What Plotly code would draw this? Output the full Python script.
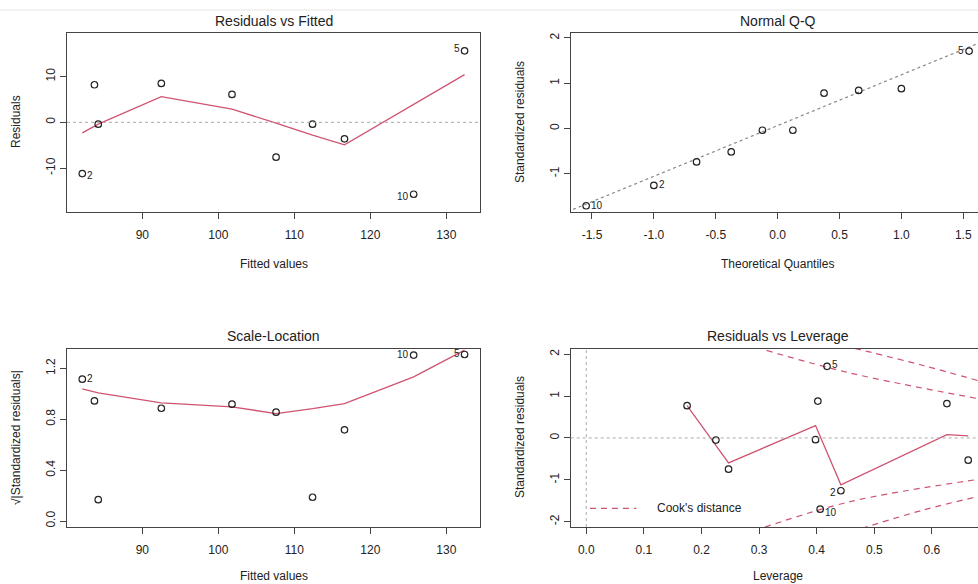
import plotly.graph_objects as go

W, H = 978, 584
FONT = "Liberation Sans, Arial, Helvetica, sans-serif"
RED = "#CF5470"
FRAME = "#444444"
TXT = "#222222"

# ---- Residuals vs Fitted / Scale-Location (shared fitted values) ----
fitted = [82.1, 83.7, 84.2, 92.5, 101.8, 107.6, 112.4, 116.6, 125.7, 132.4]
residuals = [-11.2, 8.2, -0.4, 8.5, 6.1, -7.6, -0.4, -3.6, -15.7, 15.6]
resid_smooth = [-2.3, -0.9, -0.4, 5.6, 2.9, -0.2, -2.8, -4.9, 3.9, 10.4]
sqrt_std_resid = [1.116, 0.945, 0.168, 0.887, 0.919, 0.856, 0.187, 0.717, 1.305, 1.31]
scale_smooth = [1.039, 1.016, 1.008, 0.929, 0.898, 0.845, 0.884, 0.924, 1.134, 1.344]
obs_ids = ["2", "", "", "", "", "", "", "", "10", "5"]

# ---- Normal Q-Q ----
theo_q = [-1.547, -1.000, -0.655, -0.375, -0.123, 0.123, 0.375, 0.655, 1.000, 1.547]
std_resid_sorted = [-1.71, -1.26, -0.74, -0.52, -0.04, -0.04, 0.78, 0.84, 0.88, 1.71]
qq_ids = ["10", "2", "", "", "", "", "", "", "", "5"]
qq_line_x = [-1.652, 1.619]
qq_line_y = [-1.79, 1.88]

# ---- Residuals vs Leverage ----
leverage = [0.175, 0.225, 0.247, 0.398, 0.402, 0.406, 0.418, 0.442, 0.626, 0.663]
std_resid_lev = [0.77, -0.05, -0.745, -0.04, 0.88, -1.70, 1.71, -1.26, 0.82, -0.53]
lev_ids = ["", "", "", "", "", "10", "5", "2", "", ""]
lev_smooth_x = [0.175, 0.247, 0.398, 0.442, 0.626, 0.663]
lev_smooth_y = [0.77, -0.595, 0.295, -1.12, 0.08, 0.05]
cook_curves = [
    ([0.313, 0.458, 0.680], [2.09, 1.55, 0.94]),
    ([0.466, 0.585, 0.680], [2.14, 1.73, 1.37]),
    ([0.310, 0.458, 0.680], [-2.13, -1.52, -0.99]),
    ([0.478, 0.585, 0.680], [-2.16, -1.72, -1.40]),
]
cook_legend_x = [0.0064, 0.087]
cook_legend_y = [-1.68, -1.68]

# ---- ticks ----
fit_ticks = [90, 100, 110, 120, 130]
fit_ticktext = ["90", "100", "110", "120", "130"]
res_ticks = [-10, 0, 10]
res_ticktext = ["-10", "0", "10"]
qx_ticks = [-1.5, -1.0, -0.5, 0.0, 0.5, 1.0, 1.5]
qx_ticktext = ["-1.5", "-1.0", "-0.5", "0.0", "0.5", "1.0", "1.5"]
qy_ticks = [-1, 0, 1, 2]
qy_ticktext = ["-1", "0", "1", "2"]
sl_ticks = [0.0, 0.4, 0.8, 1.2]
sl_ticktext = ["0.0", "0.4", "0.8", "1.2"]
lx_ticks = [0.0, 0.1, 0.2, 0.3, 0.4, 0.5, 0.6]
lx_ticktext = ["0.0", "0.1", "0.2", "0.3", "0.4", "0.5", "0.6"]
ly_ticks = [-2, -1, 0, 1, 2]
ly_ticktext = ["-2", "-1", "0", "1", "2"]

fig = go.Figure()

marker = dict(symbol="circle-open", size=6.5, color=TXT, line=dict(width=1.2, color=TXT))


def pts(x, y, ax):
    fig.add_trace(go.Scatter(x=x, y=y, mode="markers", marker=marker, cliponaxis=False,
                             xaxis="x" + ax, yaxis="y" + ax, hoverinfo="skip"))


def line(x, y, ax, color=RED, dash="solid", width=1.3, shape="linear"):
    fig.add_trace(go.Scatter(x=x, y=y, mode="lines",
                             line=dict(color=color, dash=dash, width=width, shape=shape),
                             xaxis="x" + ax, yaxis="y" + ax, hoverinfo="skip"))


# Panel 1
line(fitted, resid_smooth, "")
pts(fitted, residuals, "")
# Panel 2
line(qq_line_x, qq_line_y, "2", color="#888888", dash="dot", width=1.2)
pts(theo_q, std_resid_sorted, "2")
# Panel 3
line(fitted, scale_smooth, "3")
pts(fitted, sqrt_std_resid, "3")
# Panel 4
for cx, cy in cook_curves:
    line(cx, cy, "4", dash="6px,5px", width=1.2, shape="spline")
line(cook_legend_x, cook_legend_y, "4", dash="6px,5px", width=1.2)
line(lev_smooth_x, lev_smooth_y, "4")
pts(leverage, std_resid_lev, "4")

ann = []


def label(x, y, t, ax, side, dy=0):
    if not t:
        return
    ann.append(dict(x=x, y=y, xref="x" + ax, yref="y" + ax, text=t, showarrow=False,
                    xanchor="left" if side == "r" else "right",
                    xshift=3 if side == "r" else -3, yshift=dy,
                    font=dict(size=10, color=TXT, family=FONT)))


# point labels
for x, y, t in zip(fitted, residuals, obs_ids):
    label(x, y, t, "", "r" if x < 107 else "l", dy=-2 if t != "5" else 2)
for x, y, t in zip(theo_q, std_resid_sorted, qq_ids):
    label(x, y, t, "2", "r" if x < 0 else "l", dy=1 if t != "10" else 0)
for x, y, t in zip(fitted, sqrt_std_resid, obs_ids):
    label(x, y, t, "3", "r" if x < 107 else "l", dy=1)
for x, y, t in zip(leverage, std_resid_lev, lev_ids):
    side = "l" if t == "2" else "r"
    dy = {"5": 2, "2": -2, "10": -3}[t] if t else 0
    label(x, y, t, "4", side, dy=dy)

ann.append(dict(x=0.12, y=-1.68, xref="x4", yref="y4", text="Cook's distance",
                showarrow=False, xanchor="left", font=dict(size=12, color=TXT, family=FONT)))


def ptxt(xpx, ypx, t, size=12, angle=0):
    ann.append(dict(x=xpx / W, y=1 - ypx / H, xref="paper", yref="paper", text=t,
                    showarrow=False, textangle=angle, xanchor="center", yanchor="middle",
                    font=dict(size=size, color=TXT, family=FONT)))


# titles
ptxt(273.5, 21, "Residuals vs Fitted", 14)
ptxt(777.5, 21, "Normal Q-Q", 14)
ptxt(273.5, 336, "Scale-Location", 14)
ptxt(777.5, 336, "Residuals vs Leverage", 14)
# x-axis titles
ptxt(273.5, 264, "Fitted values")
ptxt(777.7, 264, "Theoretical Quantiles")
ptxt(273.5, 576, "Fitted values")
ptxt(777.5, 576, "Leverage")
# y-axis titles
ptxt(16, 122, "Residuals", 12, -90)
ptxt(520, 122, "Standardized residuals", 12, -90)
ptxt(16, 438, "√|Standardized residuals|", 12, -90)
ptxt(520, 437, "Standardized residuals", 12, -90)

shapes = [
    dict(type="line", xref="paper", yref="paper", x0=0, x1=1, y0=1 - 10 / H, y1=1 - 10 / H,
         line=dict(color="#e4e4e4", width=1)),
    dict(type="line", xref="x domain", yref="y", x0=0, x1=1, y0=0, y1=0,
         line=dict(color="#aaaaaa", width=1, dash="dot")),
    dict(type="line", xref="x4 domain", yref="y4", x0=0, x1=1, y0=0, y1=0,
         line=dict(color="#aaaaaa", width=1, dash="dot")),
    dict(type="line", xref="x4", yref="y4 domain", x0=0, x1=0, y0=0, y1=1,
         line=dict(color="#aaaaaa", width=1, dash="dot")),
]


def axis(domain, rng, tv, tt, mirror, angle=0, anchor=None, standoff=5):
    d = dict(domain=domain, range=rng, tickvals=tv, ticktext=tt, showline=True,
             linecolor=FRAME, linewidth=1.2, mirror=mirror, ticks="outside", ticklen=6,
             tickcolor=FRAME, tickwidth=1, showgrid=False, zeroline=False,
             tickfont=dict(size=12, color=TXT, family=FONT), tickangle=angle,
             ticklabelstandoff=standoff)
    if anchor:
        d["anchor"] = anchor
    return d


top_dom = [1 - 212 / H, 1 - 33 / H]
bot_dom = [1 - 527 / H, 1 - 348.5 / H]
left_dom = [67 / W, 480 / W]
right_dom = [570.7 / W, 1.0]

fig.update_layout(
    width=W, height=H, margin=dict(l=0, r=0, t=0, b=0),
    paper_bgcolor="white", plot_bgcolor="white", showlegend=False,
    font=dict(family=FONT, color=TXT),
    xaxis=axis(left_dom, [80.09, 134.43], fit_ticks, fit_ticktext, True, anchor="y"),
    yaxis=axis(top_dom, [-19.58, 19.5], res_ticks, res_ticktext, True, -90, anchor="x", standoff=0),
    xaxis2=axis(right_dom, [-1.672, 1.619], qx_ticks, qx_ticktext, True, anchor="y2"),
    yaxis2=axis(top_dom, [-1.848, 2.11], qy_ticks, qy_ticktext, False, -90, anchor="x2", standoff=0),
    xaxis3=axis(left_dom, [80.09, 134.43], fit_ticks, fit_ticktext, True, anchor="y3"),
    yaxis3=axis(bot_dom, [-0.047, 1.357], sl_ticks, sl_ticktext, True, -90, anchor="x3", standoff=0),
    xaxis4=axis(right_dom, [-0.027, 0.680], lx_ticks, lx_ticktext, True, anchor="y4"),
    yaxis4=axis(bot_dom, [-2.126, 2.136], ly_ticks, ly_ticktext, False, -90, anchor="x4", standoff=0),
    annotations=ann, shapes=shapes,
)

fig.write_html("out.html", config={"displayModeBar": False},
               post_script="document.body.style.margin='0';document.body.style.overflow='hidden';")
